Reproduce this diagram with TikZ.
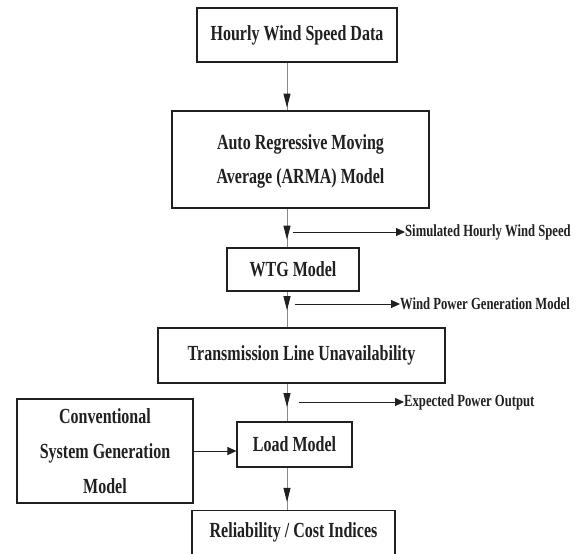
\documentclass[tikz,border=0pt]{standalone}
\usepackage{fontspec}
\setmainfont{Liberation Serif}[FakeStretch=0.745]
\usetikzlibrary{arrows.meta,decorations.markings,calc}
\definecolor{ink}{HTML}{202020}
\definecolor{stem}{HTML}{8A8A8A}
\begin{document}
\begin{tikzpicture}[x=1pt,y=-1pt,
  box/.style={draw=ink, line width=1.1pt, inner sep=0pt, align=center, text=ink,
    font=\bfseries\fontsize{21.5}{35}\selectfont},
  lab/.style={anchor=west, inner sep=0pt, text=ink, font=\bfseries\fontsize{17}{20}\selectfont},
  harrow/.style={draw=ink, line width=1pt, -{Triangle[length=9pt,width=8pt]}},
  vline/.style={draw=stem, line width=0.9pt},
  tipat/.style={postaction={decorate}, decoration={markings,
    mark=at position #1 with {\arrow[ink]{Triangle[length=14pt,width=7pt]}}}}
]
\clip (0,0) rectangle (584,554);
\fill[white] (0,0) rectangle (584,554);
\coordinate (ax) at (287,0);

\node[box, minimum width=200, minimum height=54] (hw) at (297,35) {Hourly Wind Speed Data};
\node[box, minimum width=257, minimum height=97] (arma) at (300.5,159.5) {\raisebox{-3pt}{\begin{tabular}{@{}c@{}}Auto Regressive Moving\\[-1pt]Average (ARMA) Model\end{tabular}}};
\node[box, minimum width=132, minimum height=43] (wtg) at (293,269.5) {WTG Model};
\node[box, minimum width=287, minimum height=55] (tl) at (301.5,355.5) {Transmission Line Unavailability};
\node[box, minimum width=176, minimum height=104] (conv) at (105,451) {Conventional\\System Generation\\Model};
\node[box, minimum width=115, minimum height=45] (load) at (294.5,444.5) {Load Model};
\node[box, minimum width=203, anchor=north, text height=27pt, text depth=23pt] (rel) at (293.5,510) {Reliability / Cost Indices};

\draw[vline, tipat=0.94] (hw.south -| ax) -- (arma.north -| ax);
\draw[vline, tipat=0.80] (arma.south -| ax) -- (wtg.north -| ax);
\draw[vline, tipat=0.52] (wtg.south -| ax) -- (tl.north -| ax);
\draw[vline, tipat=0.62] (tl.south -| ax) -- (load.north -| ax);
\draw[vline, tipat=0.81] (load.south -| ax) -- (rel.north -| ax);

\node[lab] (l1) at (405,232) {Simulated Hourly Wind Speed};
\node[lab] (l2) at (400,304) {Wind Power Generation Model};
\node[lab] (l3) at (404,402) {Expected Power Output};
\coordinate (s1) at (293,232);
\coordinate (s2) at (295,304);
\coordinate (s3) at (299,402);
\draw[harrow] (s1) -- (l1.west);
\draw[harrow] (s2) -- (l2.west);
\draw[harrow] (s3) -- (l3.west);

\draw[harrow] (conv.east) -- (conv.east -| load.west);
\end{tikzpicture}
\end{document}
